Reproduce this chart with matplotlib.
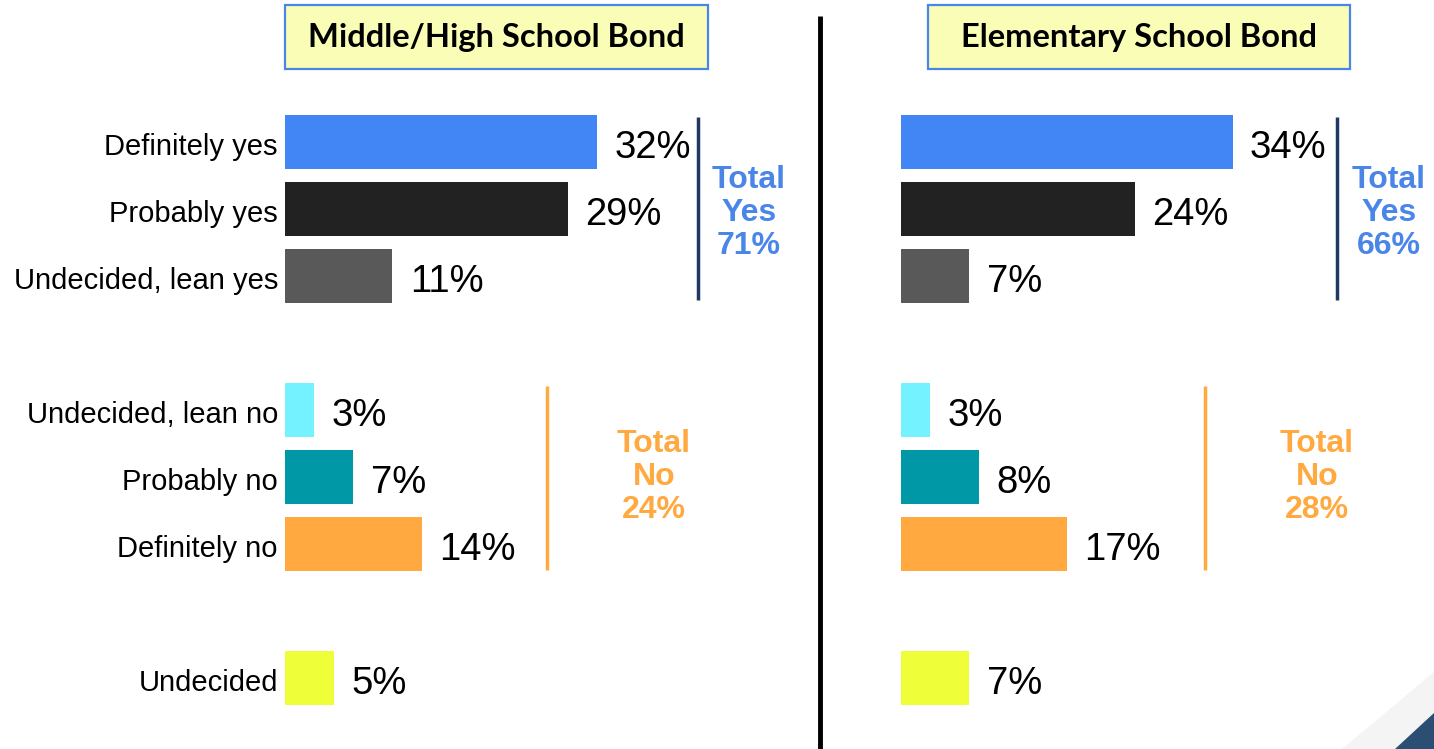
import matplotlib
matplotlib.use("Agg")
import matplotlib.pyplot as plt
from matplotlib.patches import Rectangle, Polygon

plt.rcParams['font.family'] = ['Liberation Sans', 'DejaVu Sans']

# data
categories = ["Definitely yes", "Probably yes", "Undecided, lean yes",
              "Undecided, lean no", "Probably no", "Definitely no", "Undecided"]
row_pos = [0, 1, 2, 4, 5, 6, 8]
colors = ["#4285F4", "#222222", "#595959", "#75F2FF", "#0097A7", "#FFA940", "#EEFF3A"]
middle_high = [32, 29, 11, 3, 7, 14, 5]
elementary = [34, 24, 7, 3, 8, 17, 7]
titles = ["Middle/High School Bond", "Elementary School Bond"]
total_yes = [71, 66]
total_no = [24, 28]

W, H = 1434, 749
fig = plt.figure(figsize=(W / 100, H / 100), dpi=100)

# background axes in pixel coords for decorations
bg = fig.add_axes([0, 0, 1, 1])
bg.set_xlim(0, W)
bg.set_ylim(H, 0)
bg.axis('off')

px_per_pct = 9.75
row_px = 67
top_row_y = 142
ax_w = 400
ylim = ((H - top_row_y) / row_px, -top_row_y / row_px)

panels = [
    dict(x0=285, data=middle_high, box=(285, 5, 423, 64), yes_x=698, no_x=547,
         yes_tx=749, no_tx=654, labels=True),
    dict(x0=901, data=elementary, box=(928, 5, 422, 64), yes_x=1337, no_x=1205,
         yes_tx=1389, no_tx=1317, labels=False),
]

for i, p in enumerate(panels):
    ax = fig.add_axes([p['x0'] / W, 0, ax_w / W, 1])
    ax.set_xlim(0, ax_w / px_per_pct)
    ax.set_ylim(*ylim)
    ax.axis('off')
    ax.barh(row_pos, p['data'], height=0.82, color=colors)
    for y, v in zip(row_pos, p['data']):
        ax.text(v + 1.8, y + 16 / row_px, f"{v}%", ha='left', va='baseline',
                fontsize=27.5, color='black')
    if p['labels']:
        for y, c in zip(row_pos, categories):
            ax.text(-0.72, y + 13 / row_px, c, ha='right', va='baseline', fontsize=21,
                    color='black', clip_on=False)

    # title box
    bx, by, bw, bh = p['box']
    bg.add_patch(Rectangle((bx, by), bw, bh, facecolor='#F9FDB5', edgecolor='#4A86E8', lw=1.6))
    bg.text(bx + bw / 2, by + bh / 2 + 1, titles[i], ha='center', va='center',
            fontsize=23.5, fontweight='bold', family=['Lato', 'DejaVu Sans'])

    # brackets and totals
    bg.plot([p['yes_x'], p['yes_x']], [117, 300], color='#1F3864', lw=2.5, solid_capstyle='butt')
    bg.plot([p['no_x'], p['no_x']], [386, 570], color='#FFA940', lw=2.5, solid_capstyle='butt')
    bg.text(p['yes_tx'], 213, f"Total\nYes\n{total_yes[i]}%", ha='center', va='center',
            fontsize=23, fontweight='bold', color='#4A86E8', linespacing=1.12)
    bg.text(p['no_tx'], 477, f"Total\nNo\n{total_no[i]}%", ha='center', va='center',
            fontsize=23, fontweight='bold', color='#FFA940', linespacing=1.12)

# divider
bg.plot([820, 820], [16, H], color='black', lw=3.5, solid_capstyle='butt')

# corner decoration
bg.add_patch(Polygon([(1342, H), (W, 672), (W, H)], closed=True, facecolor='#F4F4F4', edgecolor='none'))
bg.add_patch(Polygon([(1395, H), (W, 713), (W, H)], closed=True, facecolor='#2B4F72', edgecolor='none'))

fig.savefig("out.png", dpi=100)
